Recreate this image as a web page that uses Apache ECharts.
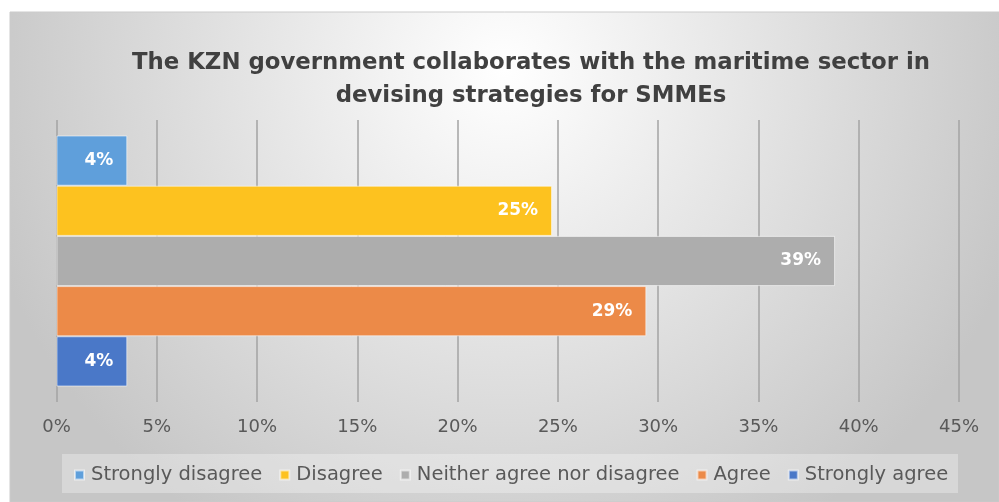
<!DOCTYPE html>
<html>
<head>
<meta charset="utf-8">
<script src="https://cdn.jsdelivr.net/npm/echarts@6/dist/echarts.min.js"></script>
<style>
  html, body { margin: 0; padding: 0; background: #ffffff; }
  #chart { width: 999px; height: 502px; }
</style>
</head>
<body>
<div id="chart"></div>
<script>
// Survey responses (share of respondents, %)
const responses = ['Strongly disagree', 'Disagree', 'Neither agree nor disagree', 'Agree', 'Strongly agree'];
const shares = [3.53, 24.71, 38.82, 29.41, 3.53];
const colors = ['#5f9fdb', '#fdc21f', '#adadad', '#ec8a48', '#4a78c8'];
const xTicks = [0, 5, 10, 15, 20, 25, 30, 35, 40, 45];
const titleLines = ['The KZN government collaborates with the maritime sector in', 'devising strategies for SMMEs'];

const chart = echarts.init(document.getElementById('chart'), null, { renderer: 'canvas' });

const series = responses.map((name, i) => ({
  name: name,
  type: 'bar',
  data: [shares[i]],
  barGap: '0%',
  barCategoryGap: '11%',
  itemStyle: { color: colors[i], borderColor: 'rgba(255,255,255,0.55)', borderWidth: 1 },
  label: {
    show: true,
    position: 'insideRight',
    distance: 14,
    color: '#ffffff',
    fontFamily: 'DejaVu Sans',
    fontWeight: 'bold',
    fontSize: 17,
    formatter: p => Math.round(p.value) + '%'
  }
}));

chart.setOption({
  animation: false,
  textStyle: { fontFamily: 'DejaVu Sans' },
  graphic: [
    {
      type: 'rect',
      z: -10,
      shape: { x: 10, y: 12, width: 989, height: 490 },
      style: {
        fill: {
          type: 'radial', x: 0.5, y: 0.12, r: 1.1,
          colorStops: [
            { offset: 0, color: '#ffffff' },
            { offset: 1, color: '#c6c6c6' }
          ]
        },
        stroke: '#cbcbcb',
        lineWidth: 1
      }
    },
    {
      type: 'rect',
      z: -5,
      shape: { x: 62, y: 454, width: 896, height: 39 },
      style: { fill: 'rgba(255,255,255,0.3)' }
    }
  ],
  title: {
    text: titleLines.join('\n'),
    left: 526,
    top: 42,
    textAlign: 'center',
    textStyle: {
      fontFamily: 'DejaVu Sans',
      fontWeight: 'bold',
      fontSize: 22.8,
      lineHeight: 33,
      color: '#404040'
    }
  },
  legend: {
    data: responses,
    left: 69,
    top: 460,
    itemWidth: 9,
    itemHeight: 9,
    itemGap: 17,
    icon: 'rect',
    textStyle: { fontFamily: 'DejaVu Sans', fontSize: 19.5, color: '#595959', padding: [0, 0, 0, 2] }
  },
  grid: { left: 56.5, right: 40, top: 120, bottom: 100, containLabel: false },
  xAxis: {
    type: 'value',
    min: xTicks[0],
    max: xTicks[xTicks.length - 1],
    interval: 5,
    axisLine: { show: false },
    axisTick: { show: false },
    axisLabel: {
      margin: 16,
      fontFamily: 'DejaVu Sans',
      fontSize: 18,
      color: '#595959',
      formatter: '{value}%'
    },
    splitLine: { show: true, lineStyle: { color: '#a3a3a3', width: 1.5 } }
  },
  yAxis: {
    type: 'category',
    data: [''],
    axisLine: { show: false },
    axisTick: { show: false },
    axisLabel: { show: false }
  },
  series: series
});
</script>
</body>
</html>
